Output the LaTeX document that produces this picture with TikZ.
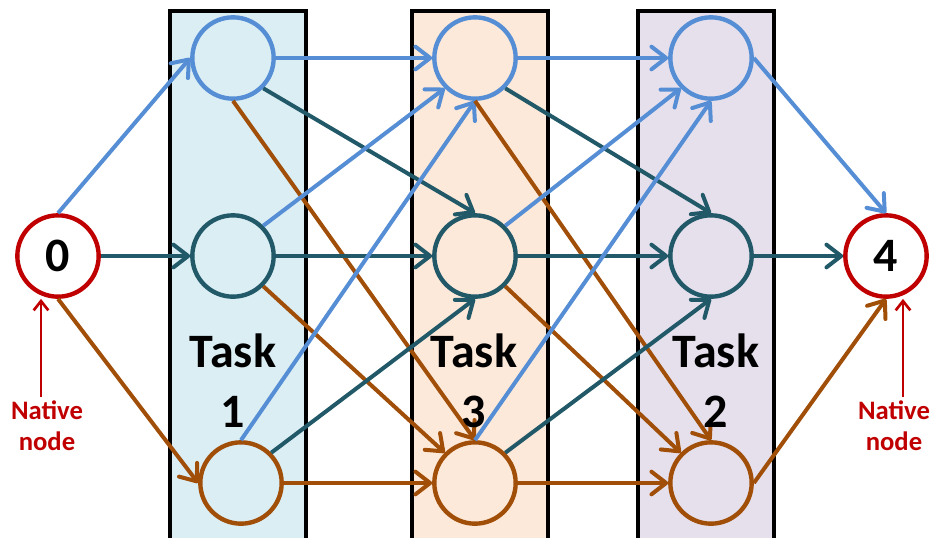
\documentclass[tikz,border=0pt]{standalone}
\usepackage{fontspec}
\setmainfont{Carlito}
\usetikzlibrary{arrows.meta}

\definecolor{lblue}{RGB}{85,142,213}
\definecolor{dteal}{RGB}{33,89,104}
\definecolor{brn}{RGB}{160,78,8}
\definecolor{dred}{RGB}{192,0,0}
\definecolor{bgblue}{RGB}{219,238,244}
\definecolor{bgorange}{RGB}{253,233,217}
\definecolor{bgpurple}{RGB}{229,224,236}

\begin{document}
\begin{tikzpicture}[x=0.75pt,y=-0.75pt,
    state/.style={circle,line width=3.3pt,minimum size=61pt,inner sep=0pt,font=\fontsize{36pt}{42pt}\selectfont\bfseries},
    edge/.style={-{Straight Barb[length=11pt,width=17pt,line join=round,line cap=round]},line width=3pt},
    task/.style={align=center,inner sep=0pt,font=\fontsize{36pt}{45pt}\selectfont\bfseries},
    native/.style={align=center,inner sep=0pt,text=dred,font=\fontsize{20pt}{23pt}\selectfont\bfseries}]
    \useasboundingbox (0,0) rectangle (932,537);

    % task columns
    \draw[line width=2.6pt,fill=bgblue](170,11) rectangle (306,545);
    \draw[line width=2.6pt,fill=bgorange](412,11) rectangle (548,545);
    \draw[line width=2.6pt,fill=bgpurple](638,11) rectangle (774,545);

    % native nodes
    \node[state,draw=dred,fill=white] (n0) at (58,256) {0};
    \node[state,draw=dred,fill=white] (n4) at (886,256) {4};

    % task 1
    \node[state,draw=lblue,fill=bgblue] (t1) at (233,58) {};
    \node[state,draw=dteal,fill=bgblue] (m1) at (233,256) {};
    \node[state,draw=brn,fill=bgblue] (b1) at (241,483) {};
    % task 3
    \node[state,draw=lblue,fill=bgorange] (t2) at (475,58) {};
    \node[state,draw=dteal,fill=bgorange] (m2) at (475,256) {};
    \node[state,draw=brn,fill=bgorange] (b2) at (475,483) {};
    % task 2
    \node[state,draw=lblue,fill=bgpurple] (t3) at (711,58) {};
    \node[state,draw=dteal,fill=bgpurple] (m3) at (711,256) {};
    \node[state,draw=brn,fill=bgpurple] (b3) at (711,483) {};

    \draw[edge,lblue](n0.north)--(t1.west);
    \draw[edge,dteal](n0.east)--(m1.west);
    \draw[edge,brn](n0.south)--(b1.west);

    \draw[edge,lblue](t1.east)--(t2.west);
    \draw[edge,dteal](t1.south east)--(m2.north);
    \draw[edge,brn](t1.south)--(b2.north);
    \draw[edge,lblue](m1.north east)--(t2.south west);
    \draw[edge,dteal](m1.east)--(m2.west);
    \draw[edge,brn](m1.south east)--(b2.north west);
    \draw[edge,lblue](b1.north)--(t2.south);
    \draw[edge,dteal](b1.north east)--(m2.south);
    \draw[edge,brn](b1.east)--(b2.west);

    \draw[edge,lblue](t2.east)--(t3.west);
    \draw[edge,dteal](t2.south east)--(m3.north);
    \draw[edge,brn](t2.south)--(b3.north);
    \draw[edge,lblue](m2.north east)--(t3.south west);
    \draw[edge,dteal](m2.east)--(m3.west);
    \draw[edge,brn](m2.south east)--(b3.north west);
    \draw[edge,lblue](b2.north)--(t3.south);
    \draw[edge,dteal](b2.north east)--(m3.south);
    \draw[edge,brn](b2.east)--(b3.west);

    \draw[edge,lblue](t3.east)--(n4.north);
    \draw[edge,dteal](m3.east)--(n4.west);
    \draw[edge,brn](b3.east)--(n4.south);

    \node[task] (task1) at (233,381) {Task\\1};
    \node[task] (task3) at (474,381) {Task\\3};
    \node[task] (task2) at (716,381) {Task\\2};

    \node[native] (lab0) at (47,426) {Native\\node};
    \node[native] (lab4) at (894,426) {Native\\node};
    \coordinate (p0) at (41,397);
    \coordinate (p4) at (903,397);
    \draw[-{Straight Barb[length=7pt,width=11pt]},line width=2pt,dred](p0)--(p0 |- n0.south);
    \draw[-{Straight Barb[length=7pt,width=11pt]},line width=2pt,dred](p4)--(p4 |- n4.south);
\end{tikzpicture}
\end{document}
